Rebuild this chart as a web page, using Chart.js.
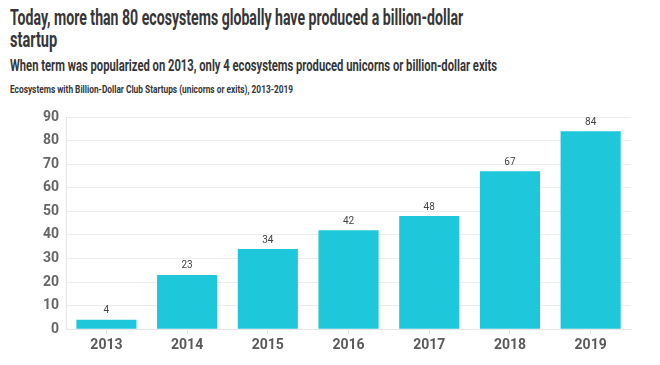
<!DOCTYPE html>
<html>
<head>
<meta charset="utf-8">
<script src="https://cdn.jsdelivr.net/npm/chart.js@4"></script>
<style>
  html, body { margin: 0; padding: 0; background: #fff; }
  body { width: 660px; height: 365px; position: relative; overflow: hidden; font-family: Roboto, sans-serif; }
  .hdr { position: absolute; left: 10px; margin: 0; font-weight: bold; white-space: nowrap; color: #363636; transform-origin: 0 0; }
  .t { font-size: 22px; line-height: 22px; }
  #title1 { top: 7px; }
  #title2 { top: 28.5px; }
  #subtitle { top: 57px; font-size: 17px; line-height: 17px; }
  #caption { top: 84px; font-size: 11.5px; line-height: 11.5px; }
  #wrap { position: absolute; left: 0; top: 100px; width: 660px; height: 265px; }
</style>
</head>
<body>
<div class="hdr t" id="title1" data-w="453">Today, more than 80 ecosystems globally have produced a billion-dollar</div>
<div class="hdr t" id="title2" data-w="47">startup</div>
<div class="hdr" id="subtitle" data-w="487">When term was popularized on 2013, only 4 ecosystems produced unicorns or billion-dollar exits</div>
<div class="hdr" id="caption" data-w="283">Ecosystems with Billion-Dollar Club Startups (unicorns or exits), 2013-2019</div>
<div id="wrap"><canvas id="chart"></canvas></div>
<script>
// data
const years = ["2013", "2014", "2015", "2016", "2017", "2018", "2019"];
const ecosystems = [4, 23, 34, 42, 48, 67, 84];
const yTicks = [0, 10, 20, 30, 40, 50, 60, 70, 80, 90];

// the source font is a narrow one, squeeze the headings to the same width
document.querySelectorAll(".hdr").forEach((el) => {
  const w = +el.dataset.w;
  el.style.transform = `scaleX(${w / el.scrollWidth})`;
});

// value labels above bars
const barLabels = {
  id: "barLabels",
  afterDatasetsDraw(chart) {
    const ctx = chart.ctx;
    const meta = chart.getDatasetMeta(0);
    ctx.save();
    ctx.font = "10px Roboto, sans-serif";
    ctx.fillStyle = "#444";
    ctx.textAlign = "center";
    ctx.textBaseline = "bottom";
    meta.data.forEach((bar, i) => {
      ctx.fillText(chart.data.datasets[0].data[i], bar.x, bar.y - 4);
    });
    ctx.restore();
  },
};

const ctx = document.getElementById("chart").getContext("2d");
new Chart(ctx, {
  type: "bar",
  data: {
    labels: years,
    datasets: [
      {
        label: "Ecosystems",
        data: ecosystems,
        backgroundColor: "#1ec8da",
        categoryPercentage: 1,
        barPercentage: 0.745,
      },
    ],
  },
  options: {
    responsive: true,
    maintainAspectRatio: false,
    animation: false,
    layout: { padding: { top: 17, right: 29, left: 36, bottom: 8 } },
    plugins: {
      legend: { display: false },
      tooltip: { enabled: false },
    },
    scales: {
      x: {
        grid: {
          offset: false,
          drawOnChartArea: false,
          drawTicks: true,
          tickLength: 5,
          color: "#e6e6e6",
        },
        border: { color: "#e6e6e6" },
        ticks: {
          color: "#5a5a5a",
          padding: 3,
          font: { family: "Roboto, sans-serif", size: 14, weight: "bold" },
        },
      },
      y: {
        min: 0,
        max: 90,
        afterBuildTicks: (axis) => {
          axis.ticks = yTicks.map((v) => ({ value: v }));
        },
        grid: { color: "#ececec", drawTicks: false },
        border: { color: "#e6e6e6" },
        ticks: {
          color: "#666",
          padding: 7,
          font: { family: "Roboto, sans-serif", size: 14, weight: "bold" },
        },
      },
    },
  },
  plugins: [barLabels],
});
</script>
</body>
</html>
